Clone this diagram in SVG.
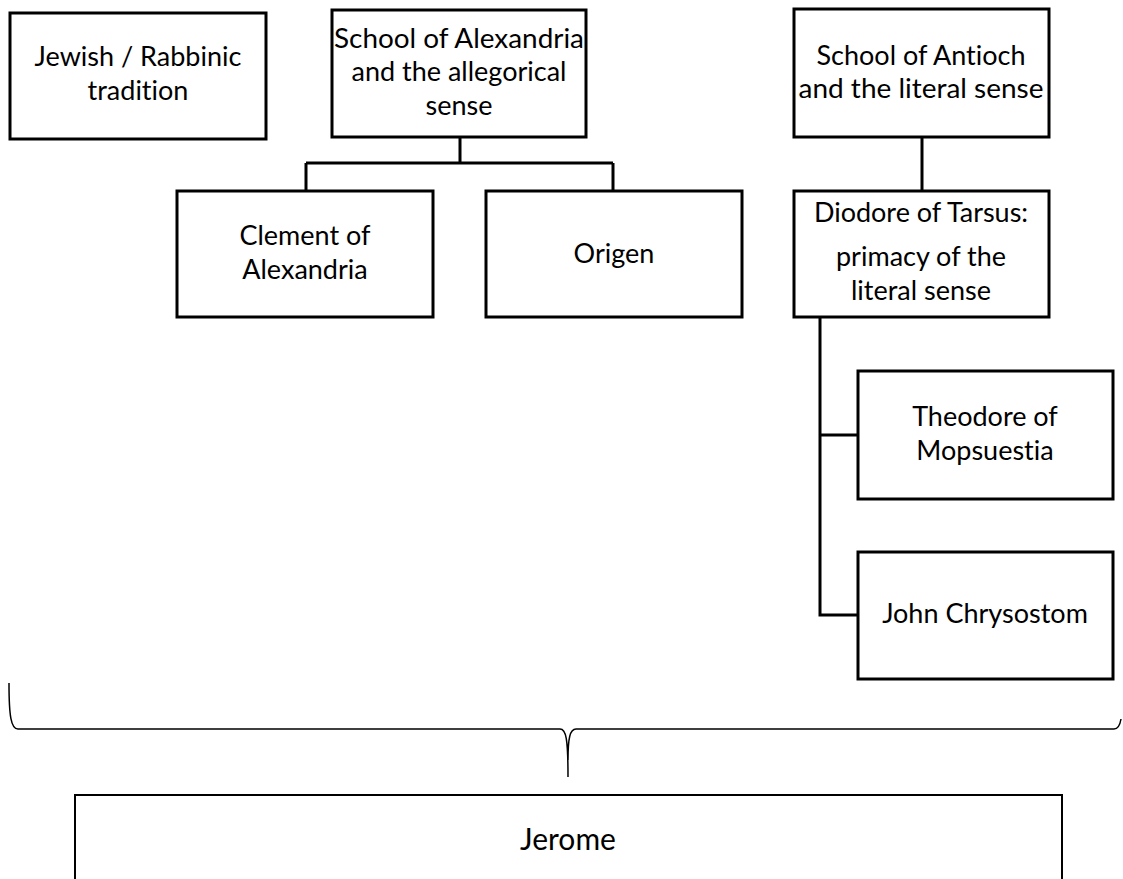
<svg xmlns="http://www.w3.org/2000/svg" width="1123" height="879" viewBox="0 0 1123 879">
<style>
.box{fill:#fff;stroke:#000;stroke-width:3}
.t{font-family:Lato,"Open Sans","Liberation Sans",sans-serif;font-size:27px;fill:#000;text-anchor:middle;font-variant-ligatures:none;font-feature-settings:"liga" 0,"dlig" 0}
.c{fill:none;stroke:#000;stroke-width:3}
.brace{fill:none;stroke:#000;stroke-width:1.5}
</style>
<rect width="1123" height="879" fill="#fff"/>
<g id="connectors">
<path class="c" d="M460 137 V163 M306 163 H613 M306 163 V191 M613 163 V191"/>
<path class="c" d="M922 137 V191"/>
<path class="c" d="M820 317 V615 H858 M820 435 H858"/>
<path class="brace" d="M9 683 C9 716 11 729 18 729 L560 729 C566 729 568 738 568 777 M568 760 C568 738 570 729 576 729 L1114 729 C1118 729 1120 725 1121 719"/>
</g>
<g id="jewish">
<rect class="box" x="10" y="13" width="256" height="126"/>
<text class="t" x="138" y="66">Jewish / Rabbinic</text>
<text class="t" x="138" y="100">tradition</text>
</g>
<g id="alexandria">
<rect class="box" x="332" y="10" width="254" height="127"/>
<text class="t" x="459" y="48" textLength="250" lengthAdjust="spacingAndGlyphs">School of Alexandria</text>
<text class="t" x="459" y="81">and the allegorical</text>
<text class="t" x="459" y="115">sense</text>
</g>
<g id="antioch">
<rect class="box" x="794" y="9" width="255" height="128"/>
<text class="t" x="921" y="65">School of Antioch</text>
<text class="t" x="921" y="98" textLength="245" lengthAdjust="spacingAndGlyphs">and the literal sense</text>
</g>
<g id="clement">
<rect class="box" x="177" y="191" width="256" height="126"/>
<text class="t" x="305" y="245">Clement of</text>
<text class="t" x="305" y="279">Alexandria</text>
</g>
<g id="origen">
<rect class="box" x="486" y="191" width="256" height="126"/>
<text class="t" x="614" y="263">Origen</text>
</g>
<g id="diodore">
<rect class="box" x="794" y="191" width="255" height="126"/>
<text class="t" x="921" y="222">Diodore of Tarsus:</text>
<text class="t" x="921" y="266">primacy of the</text>
<text class="t" x="921" y="300">literal sense</text>
</g>
<g id="theodore">
<rect class="box" x="858" y="371" width="255" height="128"/>
<text class="t" x="985" y="426">Theodore of</text>
<text class="t" x="985" y="460">Mopsuestia</text>
</g>
<g id="john">
<rect class="box" x="858" y="552" width="255" height="127"/>
<text class="t" x="985" y="623">John Chrysostom</text>
</g>
<g id="jerome">
<rect x="75" y="795" width="987" height="110" fill="#fff" stroke="#000" stroke-width="2"/>
<text class="t" x="568" y="850" style="font-size:30px">Jerome</text>
</g>
</svg>
